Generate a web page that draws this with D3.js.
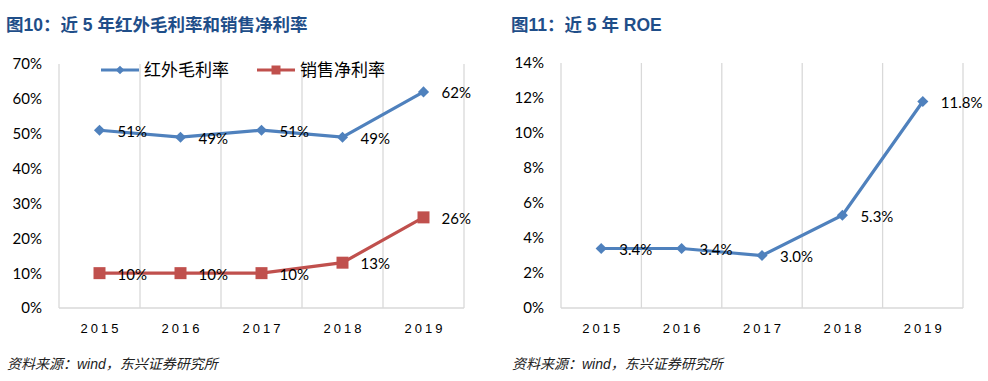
<!DOCTYPE html>
<html>
<head>
<meta charset="utf-8">
<script src="https://cdn.jsdelivr.net/npm/d3@7/dist/d3.min.js"></script>
<style>
  body { margin: 0; background: #fff; }
  svg { display: block; }
  .title { font-family: "Liberation Sans", "Noto Sans CJK SC", sans-serif; font-weight: bold; font-size: 17.5px; fill: #1f4e89; }
  .src { font-family: "Liberation Sans", "Noto Sans CJK SC", sans-serif; font-style: italic; font-size: 14px; fill: #222; }
  .ytick { font-family: Lato, "Liberation Sans", sans-serif; font-size: 15px; fill: #000; }
  .xtick { font-family: "Liberation Sans", sans-serif; font-size: 13px; letter-spacing: 3px; fill: #000; }
  .lbl { font-family: Lato, "Liberation Sans", sans-serif; font-size: 15px; fill: #000; }
  .leg { font-family: "Noto Sans CJK SC", sans-serif; font-size: 17px; fill: #000; }
</style>
</head>
<body>
<script>
var years = ['2015', '2016', '2017', '2018', '2019'];
var grossMargin = [51, 49, 51, 49, 62];
var netMargin = [10, 10, 10, 13, 26];
var roe = [3.4, 3.4, 3.0, 5.3, 11.8];
var leftTicks = [0, 10, 20, 30, 40, 50, 60, 70];
var rightTicks = [0, 2, 4, 6, 8, 10, 12, 14];

var blue = '#4f81bd', red = '#c0504d', grid = '#d9d9d9';

var svg = d3.select('body').append('svg')
    .attr('width', 988)
    .attr('height', 381);

var diamond = d3.symbol(d3.symbolSquare, 62);
var square = d3.symbol(d3.symbolSquare, 144);
var legDiamond = d3.symbol(d3.symbolSquare, 38);
var legSquare = d3.symbol(d3.symbolSquare, 81);

function panel(opt) {
  var g = svg.append('g');

  g.append('text').attr('class', 'title')
      .attr('x', opt.titleX).attr('y', 31)
      .text(opt.title);
  g.append('text').attr('class', 'src')
      .attr('x', opt.titleX + 1).attr('y', 369)
      .text('资料来源：wind，东兴证券研究所');

  var x = d3.scaleBand().domain(years).range([opt.left, opt.right]);
  var y = d3.scaleLinear().domain([0, opt.max]).range([308, opt.top]);

  // vertical grid lines at band edges
  var edges = years.map(function(d) { return x(d); }).concat([opt.right]);
  g.selectAll('.grid').data(edges).enter().append('line')
      .attr('x1', function(d) { return d; })
      .attr('x2', function(d) { return d; })
      .attr('y1', y(opt.max)).attr('y2', y(0))
      .style('stroke', grid).style('stroke-width', 1.3);

  g.append('line')
      .attr('x1', opt.left).attr('x2', opt.right)
      .attr('y1', y(0)).attr('y2', y(0))
      .style('stroke', grid).style('stroke-width', 1.5);

  g.selectAll('.ytick').data(opt.ticks).enter().append('text')
      .attr('class', 'ytick')
      .attr('x', opt.left - 17)
      .attr('y', function(d) { return y(d); })
      .attr('dy', '0.36em')
      .attr('text-anchor', 'end')
      .text(function(d) { return d + '%'; });

  g.selectAll('.xtick').data(years).enter().append('text')
      .attr('class', 'xtick')
      .attr('x', function(d) { return x(d) + x.bandwidth() / 2 + 1.5; })
      .attr('y', 333)
      .attr('text-anchor', 'middle')
      .text(function(d) { return d; });

  var cx = function(d, i) { return x(years[i]) + x.bandwidth() / 2; };

  opt.series.forEach(function(s) {
    var line = d3.line()
        .x(cx)
        .y(function(d) { return y(d); });

    g.append('path')
        .datum(s.values)
        .attr('d', line)
        .style('fill', 'none')
        .style('stroke', s.color)
        .style('stroke-width', 3.2);

    g.selectAll(null).data(s.values).enter().append('path')
        .attr('d', s.marker === 'square' ? square : diamond)
        .attr('transform', function(d, i) {
          return 'translate(' + cx(d, i) + ',' + y(d) + ')' + (s.marker === 'square' ? '' : ' rotate(45)');
        })
        .style('fill', s.color);

    g.selectAll(null).data(s.values).enter().append('text')
        .attr('class', 'lbl')
        .attr('x', function(d, i) { return cx(d, i) + 18; })
        .attr('y', function(d) { return y(d) + 1; })
        .attr('dy', '0.36em')
        .text(function(d) { return s.fmt(d); });
  });

  if (opt.legend) {
    var legX = [101, 257];
    var lg = g.selectAll('.lg').data(opt.series).enter().append('g')
        .attr('transform', function(d, i) { return 'translate(' + legX[i] + ',70)'; });
    lg.append('line')
        .attr('x1', 0).attr('x2', 38)
        .style('stroke', function(d) { return d.color; })
        .style('stroke-width', 3.2);
    lg.append('path')
        .attr('d', function(d) { return d.marker === 'square' ? legSquare() : legDiamond(); })
        .attr('transform', function(d) { return 'translate(19,0)' + (d.marker === 'square' ? '' : ' rotate(45)'); })
        .style('fill', function(d) { return d.color; });
    lg.append('text')
        .attr('class', 'leg')
        .attr('x', 43)
        .attr('dy', '0.36em')
        .text(function(d) { return d.name; });
  }
}

panel({
  title: '图10：近 5 年红外毛利率和销售净利率',
  titleX: 6,
  left: 59, right: 464, top: 64, max: 70,
  ticks: leftTicks,
  legend: true,
  series: [
    { name: '红外毛利率', values: grossMargin, color: blue, marker: 'diamond', fmt: function(d) { return d + '%'; } },
    { name: '销售净利率', values: netMargin, color: red, marker: 'square', fmt: function(d) { return d + '%'; } }
  ]
});

panel({
  title: '图11：近 5 年 ROE',
  titleX: 511,
  left: 561, right: 963, top: 63, max: 14,
  ticks: rightTicks,
  legend: false,
  series: [
    { name: 'ROE', values: roe, color: blue, marker: 'diamond', fmt: function(d) { return d.toFixed(1) + '%'; } }
  ]
});
</script>
</body>
</html>
